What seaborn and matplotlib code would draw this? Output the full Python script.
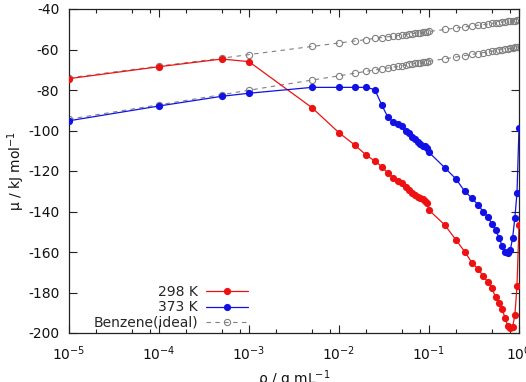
import numpy as np
import pandas as pd
import matplotlib
matplotlib.use("Agg")
import matplotlib.pyplot as plt
import seaborn as sns
from matplotlib.ticker import LogLocator, FixedLocator, NullFormatter
from matplotlib.lines import Line2D

# ---- data ----
rho = [1e-5, 1e-4, 5e-4, 1e-3, 5e-3,
       0.010, 0.015, 0.020, 0.025, 0.030, 0.035, 0.040, 0.045, 0.050, 0.055,
       0.060, 0.065, 0.070, 0.075, 0.080, 0.085, 0.090, 0.095, 0.100,
       0.15, 0.20, 0.25, 0.30, 0.35, 0.40, 0.45, 0.50, 0.55, 0.60, 0.65,
       0.70, 0.75, 0.80, 0.85, 0.90, 0.95, 1.00]

mu_298 = [-74.4, -68.5, -64.7, -66.0, -88.7,
          -101.1, -107.2, -112.1, -115.1, -117.9, -121.1, -123.3, -124.8, -126.1, -127.8,
          -129.4, -130.7, -131.9, -132.7, -133.3, -134.0, -134.8, -135.8, -139.3,
          -146.7, -154.1, -159.9, -165.3, -168.4, -171.9, -174.7, -177.9, -182.4, -185.0, -188.1,
          -192.7, -196.5, -197.7, -196.9, -191.1, -176.8, -146.7]

mu_373 = [-95.2, -87.9, -83.1, -81.6, -78.7,
          -78.7, -78.7, -78.7, -79.8, -87.6, -93.5, -95.6, -96.8, -97.8, -100.4,
          -101.4, -103.0, -104.3, -105.5, -106.8, -107.5, -107.8, -108.6, -110.8,
          -118.4, -124.0, -130.1, -133.4, -136.7, -140.0, -142.7, -146.0, -149.3, -152.9, -157.0,
          -159.8, -160.3, -159.2, -152.9, -143.1, -130.7, -98.8]

ideal_298 = [-74.0, -68.2, -64.3, -62.5, -58.5,
             -56.8, -55.8, -55.1, -54.5, -54.1, -53.7, -53.4, -53.1, -52.8, -52.6,
             -52.4, -52.2, -52.0, -51.8, -51.7, -51.5, -51.4, -51.2, -51.1,
             -50.1, -49.4, -48.8, -48.4, -48.0, -47.7, -47.4, -47.1, -46.9, -46.7, -46.5,
             -46.3, -46.1, -46.0, -45.8, -45.7, -45.5, -45.4]

ideal_373 = [-94.4, -87.3, -82.3, -80.1, -75.1,
             -73.0, -71.7, -70.8, -70.1, -69.6, -69.1, -68.7, -68.3, -68.0, -67.7,
             -67.4, -67.2, -66.9, -66.7, -66.5, -66.3, -66.2, -66.0, -65.8,
             -64.6, -63.7, -63.0, -62.4, -62.0, -61.5, -61.2, -60.8, -60.6, -60.3, -60.0,
             -59.8, -59.6, -59.4, -59.2, -59.0, -58.9, -58.7]

series_labels = ["298 K", "373 K", "Benzene(ideal)"]
x_ticks = [1e-5, 1e-4, 1e-3, 1e-2, 1e-1, 1e0]
y_ticks = [-200, -180, -160, -140, -120, -100, -80, -60, -40]

RED = "#ee1111"
BLUE = "#1111e6"
GRAY = "#808080"

sns.set_style("ticks")
plt.rcParams["font.family"] = ["DejaVu Sans"]
plt.rcParams["mathtext.default"] = "regular"

fig = plt.figure(figsize=(5.26, 3.82), dpi=100)
ax = fig.add_axes([69 / 526, 1 - 333 / 382, 450 / 526, 324 / 382])
ax.set_xscale("log")

df = pd.DataFrame({"rho": rho, "m298": mu_298, "m373": mu_373,
                   "i298": ideal_298, "i373": ideal_373})

for col in ["i298", "i373"]:
    sns.lineplot(data=df, x="rho", y=col, ax=ax, color=GRAY, lw=0.8,
                 linestyle=(0, (4, 4)), marker="o", markersize=4.5,
                 markerfacecolor="none", markeredgecolor=GRAY, markeredgewidth=0.8,
                 estimator=None, sort=False, zorder=2)
sns.lineplot(data=df, x="rho", y="m298", ax=ax, color=RED, lw=0.9, marker="o",
             markersize=5.2, markeredgewidth=0, estimator=None, sort=False, zorder=3)
sns.lineplot(data=df, x="rho", y="m373", ax=ax, color=BLUE, lw=0.9, marker="o",
             markersize=5.2, markeredgewidth=0, estimator=None, sort=False, zorder=3)

ax.set_xlim(1e-5, 1.0)
ax.set_ylim(-200, -40)
ax.xaxis.set_major_locator(FixedLocator(x_ticks))
ax.xaxis.set_minor_locator(LogLocator(base=10, subs=[2, 5, 8]))
ax.xaxis.set_minor_formatter(NullFormatter())
ax.set_yticks(y_ticks)
ax.set_yticklabels([str(v) for v in y_ticks])

ax.tick_params(which="both", direction="in", top=True, right=True, colors="#222222",
               labelcolor="#111111", labelsize=10)
ax.tick_params(which="major", length=6, width=0.8)
ax.tick_params(which="minor", length=3, width=0.8)
ax.tick_params(axis="x", which="major", pad=8)
ax.tick_params(axis="y", which="major", pad=7)
for s in ax.spines.values():
    s.set_color("#222222")
    s.set_linewidth(0.9)

ax.set_xlabel("ρ / g mL$^{-1}$", fontsize=10, color="#111111", labelpad=4)
ax.set_ylabel("μ / kJ mol$^{-1}$", fontsize=10, color="#111111", labelpad=1)

handles = [
    Line2D([], [], color=RED, lw=0.9, marker="o", markersize=5.2, markeredgewidth=0),
    Line2D([], [], color=BLUE, lw=0.9, marker="o", markersize=5.2, markeredgewidth=0),
    Line2D([], [], color=GRAY, lw=0.8, linestyle=(0, (4, 4)), marker="o", markersize=4.5,
           markerfacecolor="none", markeredgecolor=GRAY, markeredgewidth=0.8),
]
ax.legend(handles, series_labels, loc="lower right", bbox_to_anchor=(0.398, 0.01),
          frameon=False, markerfirst=False, handlelength=3.0, handletextpad=0.6,
          labelspacing=0.1, borderpad=0.0, borderaxespad=0.0, fontsize=10)

fig.savefig("out.png", dpi=100)
